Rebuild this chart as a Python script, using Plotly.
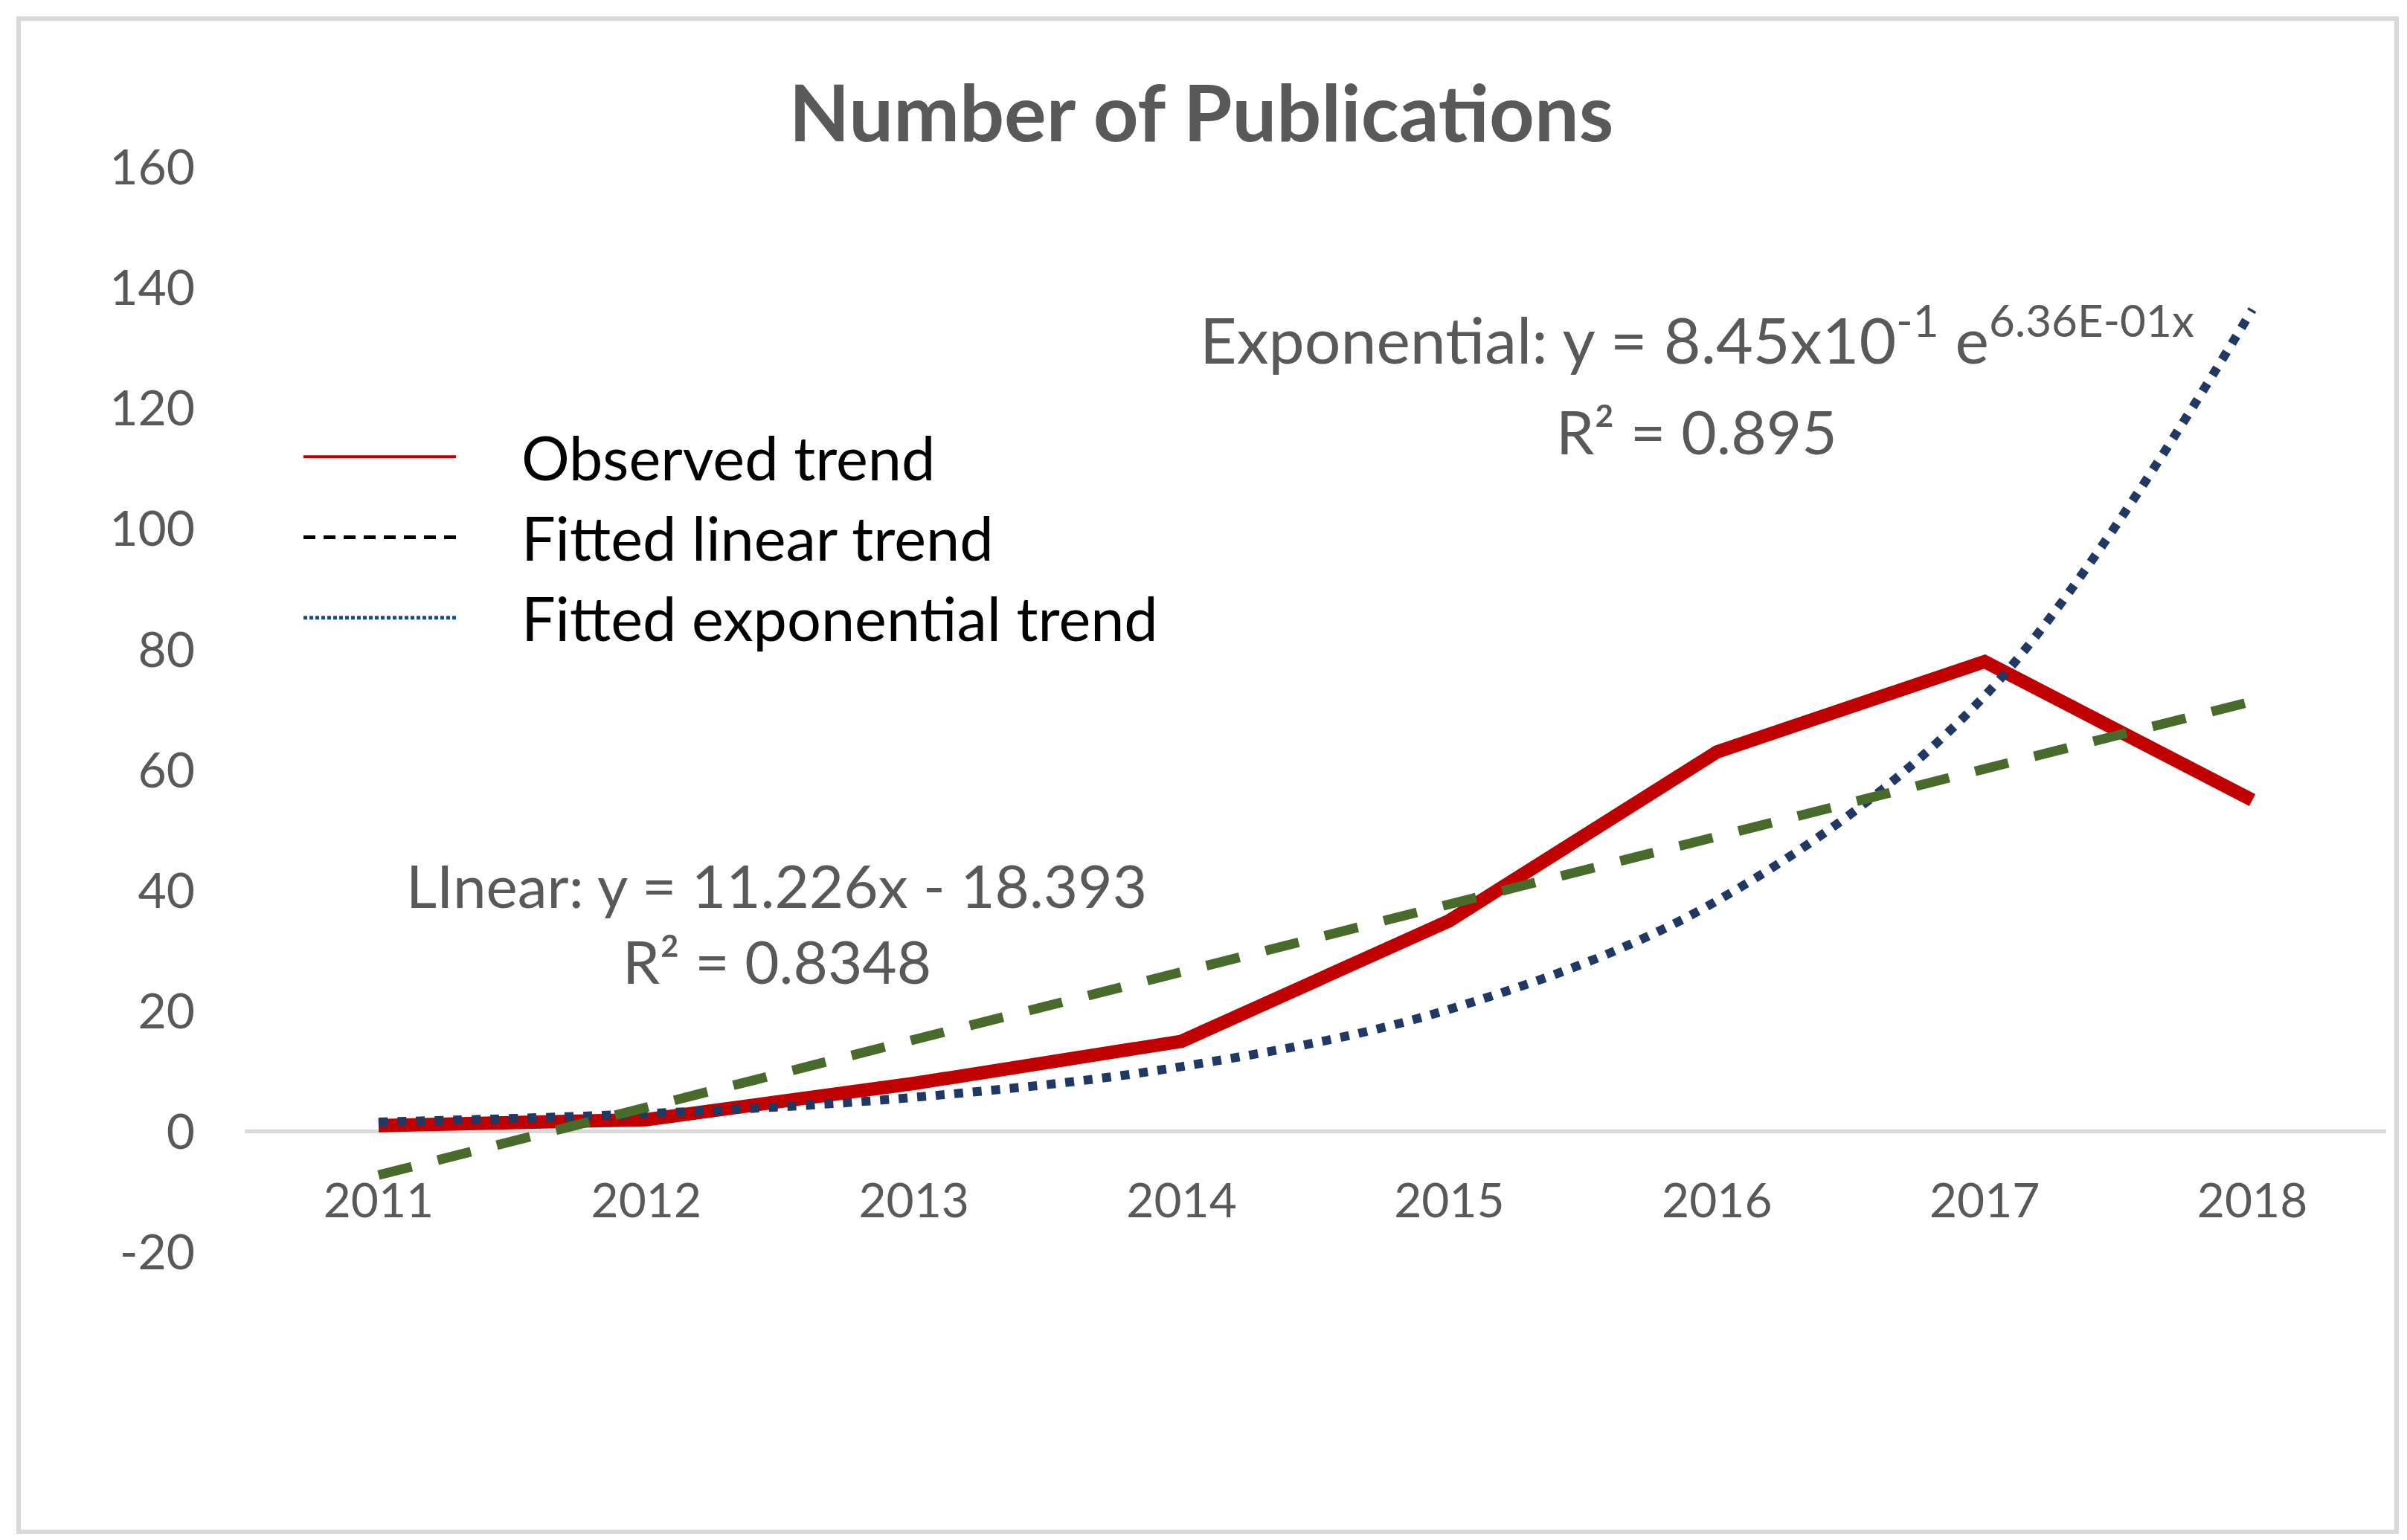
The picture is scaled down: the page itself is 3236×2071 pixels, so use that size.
import plotly.graph_objects as go

years = [2011, 2012, 2013, 2014, 2015, 2016, 2017, 2018]
observed = [1, 2, 8, 15, 35, 63, 78, 55]
linear_fit = [-7.2, 4.1, 15.3, 26.5, 37.7, 49.0, 60.2, 71.4]
exp_fit = [1.6, 3.0, 5.7, 10.8, 20.3, 38.3, 72.3, 136.4]
y_ticks = [-20, 0, 20, 40, 60, 80, 100, 120, 140, 160]

title_text = "Number of Publications"
legend_names = ["Observed trend", "Fitted linear trend", "Fitted exponential trend"]
exp_eq = "Exponential: y = 8.45x10<sup>-1</sup> e<sup>6.36E-01x</sup>"
exp_r2 = "R² = 0.895"
lin_eq = "LInear: y = 11.226x - 18.393"
lin_r2 = "R² = 0.8348"

W, H = 3236, 2071
L, R, T, B = 321, 36, 217, 395
pw, ph = W - L - R, H - T - B

def px(x):
    return (x - L) / pw

def py(y):
    return (H - B - y) / ph

FONT = "Lato"
GREY = "#595959"
PAD = "\u00a0" * 4

fig = go.Figure()

fig.add_trace(go.Scatter(x=years, y=observed, mode="lines",
                         line=dict(color="#C00000", width=18),
                         showlegend=False))
fig.add_trace(go.Scatter(x=years, y=exp_fit, mode="lines",
                         line=dict(color="#203864", width=12, dash="12px,13px", shape="spline", smoothing=1.0),
                         showlegend=False))
fig.add_trace(go.Scatter(x=years, y=linear_fit, mode="lines",
                         line=dict(color="#486B2C", width=13, dash="46px,36px"),
                         showlegend=False))

# legend entries
leg_styles = [
    dict(color="#C00000", width=4),
    dict(color="#000000", width=5, dash="16px,11px"),
    dict(color="#1F4E79", width=5, dash="5px,3px"),
]
for i, (name, st) in enumerate(zip(legend_names, leg_styles)):
    fig.add_trace(go.Scatter(x=[None], y=[None], mode="lines", name=PAD + name,
                             line=st, legendgroup=f"g{i}", showlegend=True))

fig.update_layout(
    width=W, height=H,
    margin=dict(l=L, r=R, t=T, b=B, autoexpand=False),
    paper_bgcolor="white", plot_bgcolor="white",
    title=dict(text=f"<b>{title_text}</b>", x=1607 / W, xref="container", xanchor="center",
               y=1 - 145 / H, yref="container", yanchor="middle",
               font=dict(family=FONT, size=106, color=GREY)),
    xaxis=dict(range=[2010.5, 2018.5], tickvals=years, ticktext=[str(y) for y in years],
               showgrid=False, zeroline=False, showline=False, ticks="",
               anchor="free", position=20 / 180, ticklabelstandoff=50,
               tickfont=dict(family=FONT, size=64, color=GREY)),
    yaxis=dict(range=[-20, 160], tickvals=y_ticks, ticktext=[str(v) for v in y_ticks],
               showgrid=False, zeroline=True, zerolinecolor="#D9D9D9", zerolinewidth=5,
               showline=False, ticks="", ticklabelstandoff=66,
               tickfont=dict(family=FONT, size=66, color=GREY)),
    legend=dict(x=px(395), y=py(547), xanchor="left", yanchor="top",
                font=dict(family=FONT, size=81, color="#000000"),
                itemwidth=205, traceorder="grouped", tracegroupgap=0,
                bgcolor="rgba(0,0,0,0)"),
    showlegend=True,
)

for text, x, y, size in [(exp_eq, 2273, 442, 86), (exp_r2, 2273, 571, 82),
                         (lin_eq, 1036, 1182, 80), (lin_r2, 1036, 1284, 80)]:
    fig.add_annotation(text=text, x=px(x), y=py(y), xref="paper", yref="paper",
                       xanchor="center", yanchor="middle", showarrow=False,
                       font=dict(family=FONT, size=size, color=GREY))

fig.add_shape(type="rect", xref="paper", yref="paper",
              x0=px(17), x1=px(3214), y0=py(2052), y1=py(17),
              line=dict(color="#D9D9D9", width=6), fillcolor="rgba(0,0,0,0)", layer="below")

fig.write_html("out.html")
